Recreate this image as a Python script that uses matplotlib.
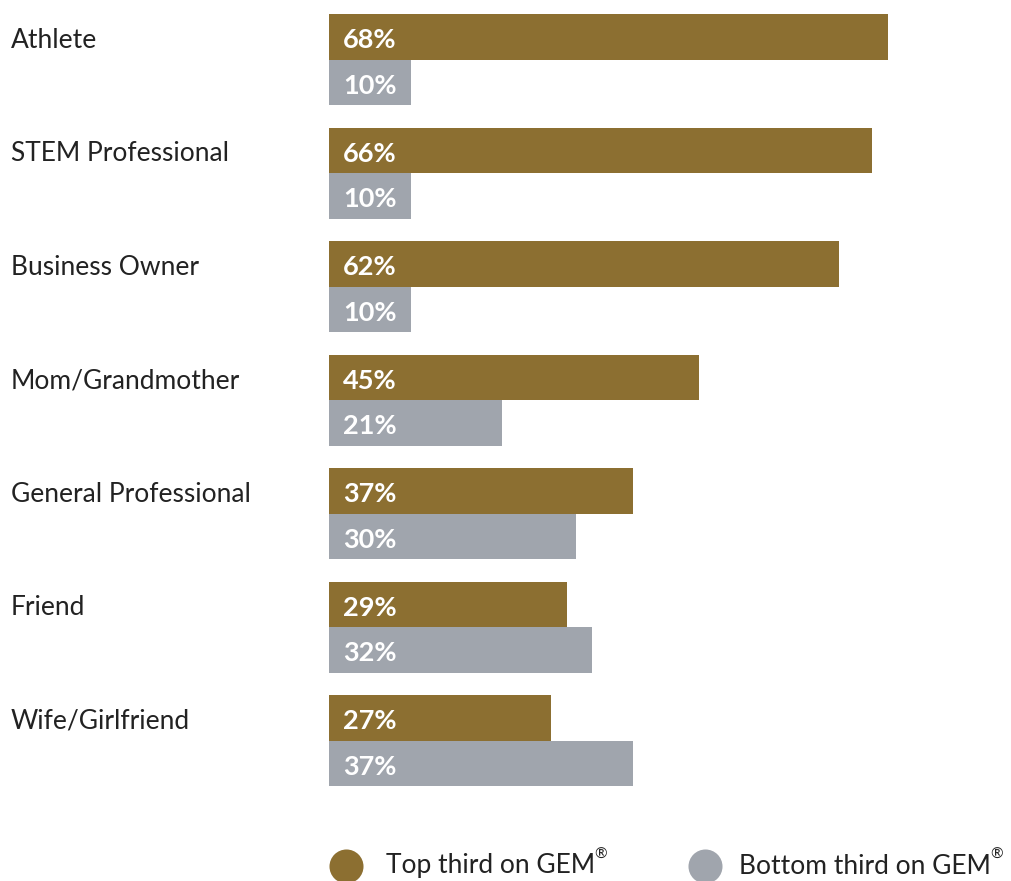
import matplotlib
matplotlib.use("Agg")
import matplotlib.pyplot as plt
import numpy as np

categories = ["Athlete", "STEM Professional", "Business Owner", "Mom/Grandmother",
              "General Professional", "Friend", "Wife/Girlfriend"]
top_third = [68, 66, 62, 45, 37, 29, 27]
bottom_third = [10, 10, 10, 21, 30, 32, 37]
legend_labels = ["Top third on GEM", "Bottom third on GEM"]

GOLD = "#8C6F31"
GRAY = "#A0A5AD"
TEXT = "#222222"
FONT = "Lato"

W, H = 1012, 881
fig = plt.figure(figsize=(W / 100, H / 100), dpi=100)

# axes spans from the bar baseline to the right edge, full height
x0 = 329
px_per_pct = 8.22
row = 113.5
first_mid = 59.5
ax = fig.add_axes([x0 / W, 0, 1 - x0 / W, 1])
ax.set_xlim(0, (W - x0) / px_per_pct)
ax.set_ylim(H / row - first_mid / row, -first_mid / row)
ax.axis("off")

y = np.arange(len(categories))
h = 45.5 / row
nudge = 3.5 / row  # drop text a little below the geometric centre
ax.barh(y - h / 2, top_third, height=h, color=GOLD, linewidth=0)
ax.barh(y + h / 2, bottom_third, height=h, color=GRAY, linewidth=0)

for i, (t, b) in enumerate(zip(top_third, bottom_third)):
    ax.text(1.7, i - h / 2 + nudge, f"{t}%", color="white", fontsize=19.5,
            fontweight="bold", family=FONT, va="center", ha="left")
    ax.text(1.7, i + h / 2 + nudge, f"{b}%", color="white", fontsize=19.5,
            fontweight="bold", family=FONT, va="center", ha="left")
    # category name sits level with the gold bar
    ax.text(-318 / px_per_pct, i - h / 2 + nudge, categories[i], color=TEXT,
            fontsize=19, family=FONT, va="center", ha="left", clip_on=False)

# legend along the bottom, partly running off the page
legend_y = 1 - 866 / H
for cx, tx, color, label in [(346, 386, GOLD, legend_labels[0]),
                             (705, 739, GRAY, legend_labels[1])]:
    fig.add_artist(plt.Line2D([cx / W], [legend_y], marker="o", markersize=24.5,
                              color=color, markeredgewidth=0, transform=fig.transFigure))
    t = fig.text(tx / W, legend_y, label, color=TEXT, fontsize=19, family=FONT,
                 va="center", ha="left")
    fig.canvas.draw()
    bb = t.get_window_extent()
    fig.text((bb.x1 - 1) / W, legend_y + 0.013, "®", color=TEXT, fontsize=11,
             family=FONT, va="center", ha="left")

fig.savefig("out.png", dpi=100)
